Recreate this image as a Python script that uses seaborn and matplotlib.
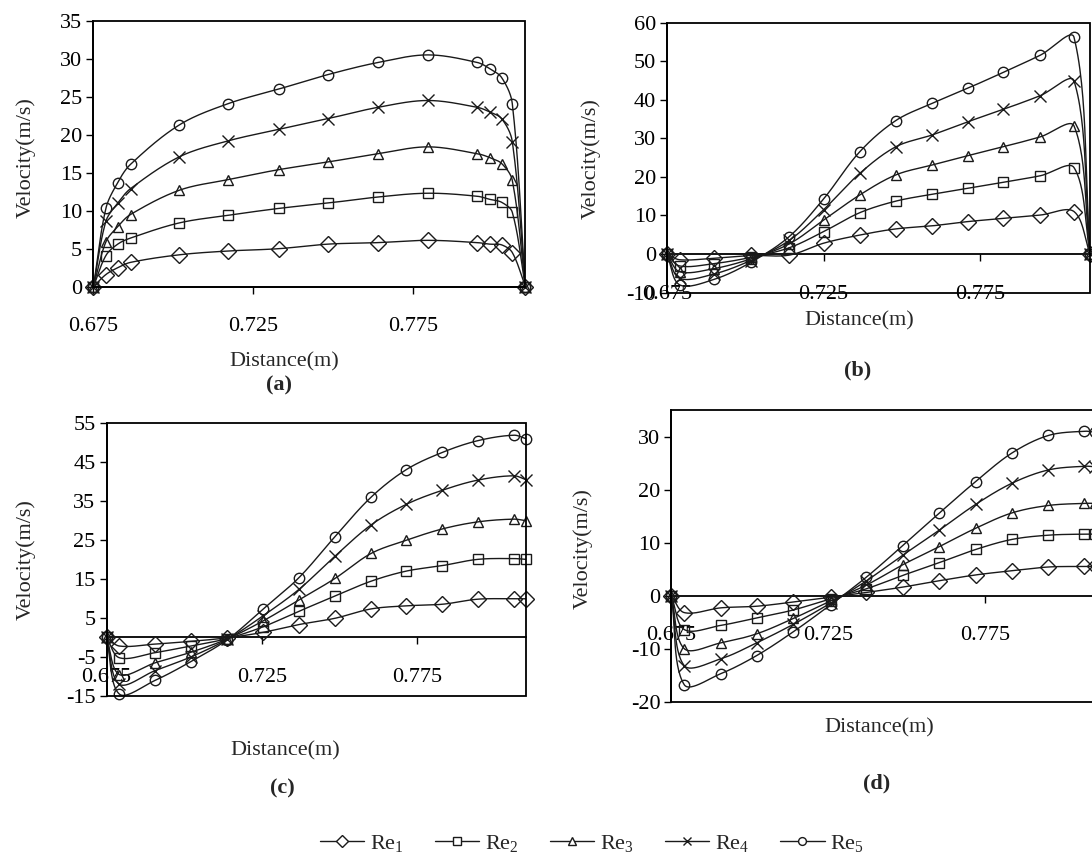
import numpy as np
import matplotlib
matplotlib.use("Agg")
import matplotlib.pyplot as plt
import seaborn as sns
from matplotlib.patches import Rectangle
from matplotlib.lines import Line2D

# ---------------- data ----------------
series_names = [r"$\mathrm{Re}_1$", r"$\mathrm{Re}_2$", r"$\mathrm{Re}_3$", r"$\mathrm{Re}_4$", r"$\mathrm{Re}_5$"]
xtick_vals = [0.675, 0.725, 0.775]
xtick_labels = ["0.675", "0.725", "0.775"]

# panel (a)
xa = [0.675, 0.6789, 0.6826, 0.6866, 0.7019, 0.7172, 0.7329, 0.7482, 0.7639, 0.7795, 0.795, 0.7988, 0.8026, 0.8059, 0.81]
a_re1 = [0, 1.6, 2.5, 3.2, 4.2, 4.7, 5.0, 5.6, 5.8, 6.1, 5.8, 5.6, 5.5, 4.5, 0]
a_re2 = [0, 4.1, 5.6, 6.4, 8.4, 9.4, 10.3, 11.0, 11.8, 12.3, 11.9, 11.5, 11.1, 9.8, 0]
a_re3 = [0, 5.9, 7.9, 9.5, 12.7, 14.1, 15.4, 16.4, 17.5, 18.4, 17.5, 17.0, 16.2, 14.0, 0]
a_re4 = [0, 8.6, 11.0, 12.9, 17.1, 19.2, 20.7, 22.1, 23.6, 24.5, 23.6, 23.0, 22.1, 19.1, 0]
a_re5 = [0, 10.3, 13.7, 16.1, 21.3, 24.1, 26.0, 27.9, 29.5, 30.5, 29.5, 28.7, 27.5, 24.1, 0]

# panel (b)
xb = [0.675, 0.679, 0.690, 0.7017, 0.714, 0.725, 0.7365, 0.748, 0.7597, 0.771, 0.7823, 0.7942, 0.8049, 0.81]
b_re1 = [0, -1.5, -1.1, -0.4, -0.3, 2.8, 4.9, 6.5, 7.3, 8.4, 9.2, 10.1, 11.0, 0]
b_re2 = [0, -3.1, -2.5, -0.9, 1.6, 5.8, 10.7, 13.7, 15.5, 17.0, 18.6, 20.3, 22.4, 0]
b_re3 = [0, -4.6, -3.8, -1.3, 2.6, 8.8, 15.3, 20.5, 23.1, 25.5, 27.8, 30.4, 33.2, 0]
b_re4 = [0, -6.3, -5.2, -1.7, 3.5, 11.5, 20.9, 27.8, 30.9, 34.3, 37.5, 41.1, 44.9, 0]
b_re5 = [0, -8.0, -6.6, -2.2, 4.5, 14.3, 26.5, 34.6, 39.1, 43.0, 47.1, 51.6, 56.2, 0]

# panel (c)
xc = [0.675, 0.6791, 0.6906, 0.7021, 0.7138, 0.7253, 0.7369, 0.7485, 0.7601, 0.7715, 0.7831, 0.7945, 0.8061, 0.81]
c_re1 = [0, -2.2, -1.7, -1.0, -0.1, 1.3, 3.3, 4.9, 7.3, 8.1, 8.5, 9.8, 9.9, 9.9]
c_re2 = [0, -5.2, -3.9, -2.2, -0.3, 2.7, 6.7, 10.6, 14.4, 17.0, 18.4, 20.0, 20.2, 20.0]
c_re3 = [0, -9.5, -6.5, -3.8, -0.4, 4.2, 9.6, 15.1, 21.5, 24.9, 27.8, 29.6, 30.3, 29.9]
c_re4 = [0, -12.0, -8.5, -5.0, -0.5, 5.5, 12.3, 20.8, 28.8, 34.1, 37.7, 40.3, 41.4, 40.4]
c_re5 = [0, -14.5, -11.0, -6.2, -0.6, 7.2, 15.3, 25.8, 35.9, 43.0, 47.4, 50.4, 51.8, 50.9]

# panel (d)
xd = [0.675, 0.6791, 0.6908, 0.7022, 0.7139, 0.7258, 0.7372, 0.7487, 0.7603, 0.7720, 0.7836, 0.7952, 0.8067, 0.81]
d_re1 = [0, -3.2, -2.3, -2.0, -1.2, -0.3, 0.6, 1.6, 2.8, 3.9, 4.7, 5.4, 5.5, 5.5]
d_re2 = [0, -6.4, -5.6, -4.2, -2.7, -0.6, 1.3, 3.8, 6.2, 8.7, 10.6, 11.4, 11.6, 11.6]
d_re3 = [0, -10.0, -8.9, -7.2, -4.3, -1.0, 2.0, 5.8, 9.2, 12.7, 15.6, 17.0, 17.4, 17.4]
d_re4 = [0, -13.2, -11.9, -8.9, -5.4, -1.4, 2.8, 7.6, 12.3, 17.2, 21.2, 23.7, 24.4, 24.3]
d_re5 = [0, -16.8, -14.7, -11.3, -6.8, -1.7, 3.5, 9.4, 15.5, 21.5, 26.9, 30.2, 31.0, 30.8]

# ---------------- style ----------------
sns.set_theme(style="ticks")
plt.rcParams["font.family"] = ["Liberation Serif", "DejaVu Serif"]
plt.rcParams["mathtext.fontset"] = "custom"
plt.rcParams["mathtext.rm"] = "Liberation Serif"
plt.rcParams["mathtext.it"] = "Liberation Serif:italic"
plt.rcParams["axes.edgecolor"] = "black"
plt.rcParams["xtick.color"] = "black"
plt.rcParams["ytick.color"] = "black"

LC = "#1a1a1a"
FS = 16
markers = ["D", "s", "^", "x", "o"]
msizes = [8, 7.5, 7.5, 8, 7.5]

W, H = 1092, 856
fig = plt.figure(figsize=(W / 100, H / 100), dpi=100)
fig.patch.set_facecolor("white")


def axes_px(l, r, t, b):
    return fig.add_axes([l / W, 1 - b / H, (r - l) / W, (b - t) / H])


def smooth_curve(ax, xs, ys, n=30):
    pts = ax.transData.transform(np.column_stack([xs, ys]))
    m = len(pts)
    h = np.linalg.norm(np.diff(pts, axis=0), axis=1)
    h = np.maximum(h, 1e-9)
    T = np.zeros_like(pts)
    for i in range(m):
        if i == 0:
            T[i] = (pts[1] - pts[0]) / h[0]
        elif i == m - 1:
            T[i] = (pts[-1] - pts[-2]) / h[-1]
        else:
            T[i] = (pts[i + 1] - pts[i - 1]) / (h[i - 1] + h[i])
    t = np.linspace(0, 1, n)[:, None]
    out = []
    for i in range(m - 1):
        p0, p3 = pts[i], pts[i + 1]
        c1 = p0 + T[i] * h[i] / 3
        c2 = p3 - T[i + 1] * h[i] / 3
        seg = (1 - t) ** 3 * p0 + 3 * (1 - t) ** 2 * t * c1 + 3 * (1 - t) * t ** 2 * c2 + t ** 3 * p3
        out.append(seg if i == 0 else seg[1:])
    out = np.vstack(out)
    d = ax.transData.inverted().transform(out)
    return d[:, 0], d[:, 1]


def panel(box, x, ys, ylim, yticks, xpad):
    ax = axes_px(*box)
    ax.set_facecolor("white")
    ax.set_xlim(0.675, 0.81)
    ax.set_ylim(*ylim)
    ax.set_xticks(xtick_vals)
    ax.set_xticklabels(xtick_labels)
    ax.set_yticks(yticks)
    ax.set_yticklabels([str(v) for v in yticks])
    ax.spines["bottom"].set_position(("data", 0))
    ax.spines["top"].set_visible(False)
    ax.spines["right"].set_visible(False)
    for s in ["bottom", "left"]:
        ax.spines[s].set_linewidth(1.3)
        ax.spines[s].set_color("black")
    ax.add_patch(Rectangle((0, 0), 1, 1, transform=ax.transAxes, fill=False,
                           ec="black", lw=1.3, clip_on=False, zorder=6))
    ax.tick_params(axis="x", direction="out", length=5, width=1, pad=xpad,
                   labelsize=FS, bottom=True, top=False)
    ax.tick_params(axis="y", direction="out", length=5, width=1, pad=3,
                   labelsize=FS, left=True, right=False)
    ax.grid(False)
    for y, mk, ms in zip(ys, markers, msizes):
        sx, sy = smooth_curve(ax, x, y)
        sns.lineplot(x=sx, y=sy, ax=ax, sort=False, estimator=None, color=LC,
                     lw=1.0, legend=False, zorder=3)
        ax.plot(x, y, linestyle="", marker=mk, markersize=ms, markerfacecolor="none",
                markeredgecolor=LC, markeredgewidth=1.0, clip_on=False, zorder=4)
    ax.set_xlabel("")
    ax.set_ylabel("")
    return ax


panel((93.4, 525.4, 20.7, 286.7), xa, [a_re1, a_re2, a_re3, a_re4, a_re5],
      (0, 35), list(range(0, 36, 5)), 17)
panel((667, 1090, 22.7, 292.5), xb, [b_re1, b_re2, b_re3, b_re4, b_re5],
      (-10, 60), list(range(-10, 61, 10)), 17)
panel((106.6, 526, 422.7, 696), xc, [c_re1, c_re2, c_re3, c_re4, c_re5],
      (-15, 55), list(range(-15, 56, 10)), 17)
panel((671.4, 1094.8, 410, 701.7), xd, [d_re1, d_re2, d_re3, d_re4, d_re5],
      (-20, 35), list(range(-20, 31, 10)), 17)


def ftext(x, y, s, **kw):
    fig.text(x / W, 1 - y / H, s, ha="center", va="center", fontsize=FS, **kw)


# axis titles
ftext(284, 362, "Distance(m)")
ftext(859, 321, "Distance(m)")
ftext(285, 751, "Distance(m)")
ftext(879, 728, "Distance(m)")
ftext(26, 158, "Velocity(m/s)", rotation=90)
ftext(591, 159, "Velocity(m/s)", rotation=90)
ftext(26, 560, "Velocity(m/s)", rotation=90)
ftext(583, 549, "Velocity(m/s)", rotation=90)
# panel captions
ftext(279, 385, "(a)", fontweight="bold")
ftext(858, 370, "(b)", fontweight="bold")
ftext(282, 788, "(c)", fontweight="bold")
ftext(877, 783, "(d)", fontweight="bold")

handles = [Line2D([0], [0], color=LC, lw=1.0, marker=mk, markersize=ms * 0.75,
                  markerfacecolor="white", markeredgecolor=LC, markeredgewidth=1.0)
           for mk, ms in zip(markers, msizes)]
fig.legend(handles, series_names, loc="center", bbox_to_anchor=(592 / W, 1 - 843 / H),
           ncol=5, frameon=False, fontsize=FS, handlelength=2.0, handletextpad=0.25,
           columnspacing=1.4)

fig.savefig("out.png", dpi=100, facecolor="white")
